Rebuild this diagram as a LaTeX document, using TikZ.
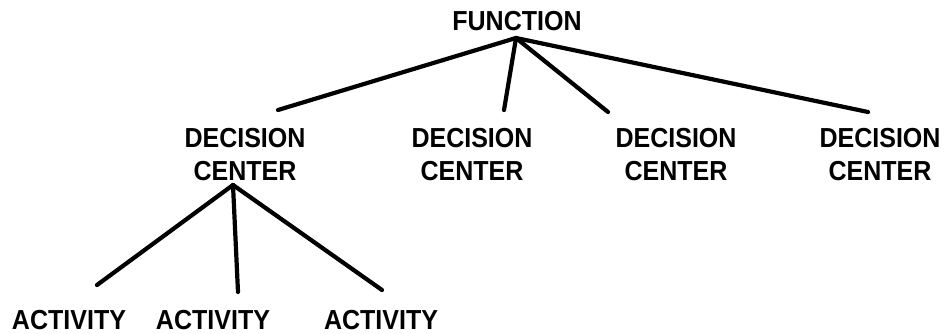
\documentclass[tikz,border=0pt]{standalone}
\usepackage{fontspec}
\setmainfont{Liberation Sans}[FakeStretch=0.91]
\usepackage{tikz}

\begin{document}
\begin{tikzpicture}[x=1pt, y=-1pt,
  every node/.style={font=\fontsize{27.5}{33}\selectfont\bfseries, inner sep=0pt, align=center},
  link/.style={line width=4.2pt, line cap=round}]
  \useasboundingbox (0,0) rectangle (947,333);

  % Top level
  \node[anchor=base] (fn) at (517,30) {FUNCTION};
  \coordinate (fn-root) at (516,38);

  % Decision centers (base = second line)
  \node[anchor=base] (dc1) at (245,180) {DECISION\\CENTER};
  \node[anchor=base] (dc2) at (472,180) {DECISION\\CENTER};
  \node[anchor=base] (dc3) at (676,180) {DECISION\\CENTER};
  \node[anchor=base] (dc4) at (880,180) {DECISION\\CENTER};
  \coordinate (dc1-top) at (278,110);
  \coordinate (dc2-top) at (504,110);
  \coordinate (dc3-top) at (608,112);
  \coordinate (dc4-top) at (868,112);
  \coordinate (dc1-root) at (233,185);

  % Activities under the first center
  \node[anchor=base] (act1) at (69,329) {ACTIVITY};
  \node[anchor=base] (act2) at (213,329) {ACTIVITY};
  \node[anchor=base] (act3) at (381,329) {ACTIVITY};
  \coordinate (act1-top) at (97,285);
  \coordinate (act2-top) at (238,292);
  \coordinate (act3-top) at (382,290);

  % Branches
  \foreach \c in {dc1,dc2,dc3,dc4}
    \draw[link] (fn-root) -- (\c-top);
  \foreach \a in {act1,act2,act3}
    \draw[link] (dc1-root) -- (\a-top);
\end{tikzpicture}
\end{document}
